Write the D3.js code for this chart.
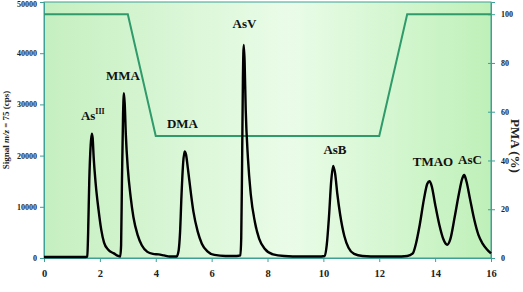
<!DOCTYPE html>
<html>
<head>
<meta charset="utf-8">
<script src="https://cdn.jsdelivr.net/npm/d3@7"></script>
<style>
  body { margin: 0; background: #fff; }
  svg text { font-family: "Liberation Serif", "Times New Roman", serif; font-weight: bold; }
</style>
</head>
<body>
<div id="chart"></div>
<script>
// --- DATA ---
// chromatogram: [time (min), signal (cps)]
const signalTrace = [
  [0, 200], [0.5, 200], [1.0, 200], [1.5, 200], [1.55, 300], [1.58, 5000], [1.62, 15000],
  [1.67, 22000], [1.71, 24300], [1.74, 23500], [1.78, 19500], [1.85, 14500], [1.95, 9500],
  [2.05, 5500], [2.15, 3000], [2.3, 1600], [2.5, 900], [2.65, 400], [2.73, 300],
  [2.76, 2500], [2.79, 15000], [2.83, 28000], [2.86, 32200], [2.89, 30000], [2.93, 24000],
  [3.0, 17500], [3.1, 12000], [3.2, 8000], [3.35, 4500], [3.5, 2500], [3.7, 1200],
  [3.9, 800], [4.1, 700], [4.3, 500], [4.5, 300], [4.75, 300],
  [4.82, 1500], [4.87, 5000], [4.92, 12000], [4.98, 18500], [5.03, 20800], [5.08, 20300],
  [5.15, 17500], [5.25, 13000], [5.35, 9000], [5.5, 5200], [5.65, 2800], [5.85, 1300],
  [6.1, 600], [6.5, 400], [6.9, 400], [7.03, 500],
  [7.06, 4000], [7.09, 18000], [7.12, 35000], [7.15, 41600], [7.18, 38500], [7.22, 29000],
  [7.3, 19500], [7.4, 12500], [7.55, 7000], [7.7, 3800], [7.9, 1800], [8.2, 700],
  [8.6, 400], [9.2, 300], [9.8, 300], [10.05, 400],
  [10.12, 2500], [10.2, 8000], [10.28, 15000], [10.35, 18000], [10.42, 16500], [10.5, 12500],
  [10.6, 8500], [10.75, 4300], [10.9, 2000], [11.1, 800], [11.4, 400], [12.0, 300],
  [12.6, 300], [13.0, 400], [13.2, 900],
  [13.3, 2500], [13.45, 6500], [13.6, 11500], [13.72, 14500], [13.8, 15000], [13.88, 14000],
  [14.0, 10500], [14.15, 6500], [14.3, 3600], [14.43, 2600], [14.55, 3800], [14.7, 8000],
  [14.85, 12500], [14.97, 15500], [15.04, 16200], [15.12, 15000], [15.25, 11500],
  [15.4, 7500], [15.55, 4500], [15.7, 2800], [15.85, 1700], [16.0, 900]
];

// mobile phase gradient: [time (min), PMA (%)]
const pmaGradient = [[0, 100], [3, 100], [4, 50], [12, 50], [13, 100], [16, 100]];

// peak labels: [label, superscript, time at label start, signal at label baseline]
const peakLabels = [
  ["As", "III", 1.32, 27000],
  ["MMA", "", 2.22, 34800],
  ["DMA", "", 4.4, 25300],
  ["AsV", "", 6.75, 45000],
  ["AsB", "", 10.0, 20300],
  ["TMAO", "", 13.2, 18000],
  ["AsC", "", 14.82, 18400]
];

const xTicks = [0, 2, 4, 6, 8, 10, 12, 14, 16];
const yTicks = [0, 10000, 20000, 30000, 40000, 50000];
const pmaTicks = [0, 20, 40, 60, 80, 100];

// --- LAYOUT ---
const width = 523, height = 292;
const margin = { top: 2, right: 32, bottom: 34, left: 44 };
const innerW = width - margin.left - margin.right;
const innerH = height - margin.top - margin.bottom;
const axisColor = "#3e9f97";

const svg = d3.select("#chart").append("svg")
  .attr("width", width)
  .attr("height", height);

const defs = svg.append("defs");
const grad = defs.append("linearGradient").attr("id", "bg").attr("x1", 0).attr("x2", 1).attr("y1", 0).attr("y2", 0);
grad.append("stop").attr("offset", "0%").attr("stop-color", "#c5efc0");
grad.append("stop").attr("offset", "55%").attr("stop-color", "#eafce8");
grad.append("stop").attr("offset", "100%").attr("stop-color", "#bff0b9");

const g = svg.append("g").attr("transform", `translate(${margin.left},${margin.top})`);

g.append("rect")
  .attr("width", innerW).attr("height", innerH)
  .attr("fill", "url(#bg)")
  .attr("stroke", axisColor).attr("stroke-width", 1);

// --- SCALES ---
const x = d3.scaleLinear().domain([0, 16]).range([0, innerW]);
const y = d3.scaleLinear().domain([0, 50000]).range([innerH, 0]);
const yPma = d3.scaleLinear().domain([0, 105]).range([innerH, 0]);

// --- AXES ---
function styleAxis(sel, size) {
  sel.select(".domain").attr("stroke", axisColor);
  sel.selectAll(".tick line").attr("stroke", axisColor);
  sel.selectAll(".tick text").attr("fill", "#222").style("font-size", size + "px");
}

g.append("g")
  .attr("transform", `translate(0,${innerH})`)
  .call(d3.axisBottom(x).tickValues(xTicks).tickSize(4).tickPadding(8).tickFormat(d3.format("d")))
  .call(s => styleAxis(s, 10.5));

g.append("g")
  .call(d3.axisLeft(y).tickValues(yTicks).tickSize(4).tickPadding(3).tickFormat(d3.format("d")))
  .call(s => {
    styleAxis(s, 8);
    // top label sits at the very edge; nudge it just inside the page
    s.selectAll(".tick text").filter(d => d === 50000).attr("dy", "0.55em");
  });

g.append("g")
  .attr("transform", `translate(${innerW},0)`)
  .call(d3.axisRight(yPma).tickValues(pmaTicks).tickSize(4).tickPadding(6).tickFormat(d3.format("d")))
  .call(s => {
    styleAxis(s, 8);
    s.selectAll(".tick line").attr("x1", -3);
  });

// --- PMA GRADIENT LINE ---
g.append("path")
  .datum(pmaGradient)
  .attr("fill", "none")
  .attr("stroke", "#2f9a6a")
  .attr("stroke-width", 2)
  .attr("d", d3.line().x(d => x(d[0])).y(d => yPma(d[1])));

// --- CHROMATOGRAM ---
g.append("path")
  .datum(signalTrace)
  .attr("fill", "none")
  .attr("stroke", "#000")
  .attr("stroke-width", 2.4)
  .attr("stroke-linejoin", "round")
  .attr("d", d3.line().x(d => x(d[0])).y(d => y(d[1])).curve(d3.curveMonotoneX));

// --- PEAK LABELS ---
peakLabels.forEach(([name, sup, t, s]) => {
  const txt = g.append("text")
    .attr("x", x(t)).attr("y", y(s))
    .attr("fill", "#111")
    .style("font-size", "13px")
    .text(name);
  if (sup) {
    txt.append("tspan").attr("dy", -6).style("font-size", "8px").text(sup);
  }
});

// --- AXIS TITLES ---
const yTitle = svg.append("text")
  .attr("transform", `translate(9,${margin.top + 128}) rotate(-90)`)
  .attr("text-anchor", "middle")
  .attr("fill", "#222")
  .style("font-size", "9px");
yTitle.append("tspan").text("Signal ");
yTitle.append("tspan").style("font-style", "italic").text("m/z");
yTitle.append("tspan").text(" = 75 (cps)");

svg.append("text")
  .attr("transform", `translate(511,${margin.top + 144}) rotate(90)`)
  .attr("text-anchor", "middle")
  .attr("fill", "#222")
  .style("font-size", "13px")
  .text("PMA (%)");
</script>
</body>
</html>
